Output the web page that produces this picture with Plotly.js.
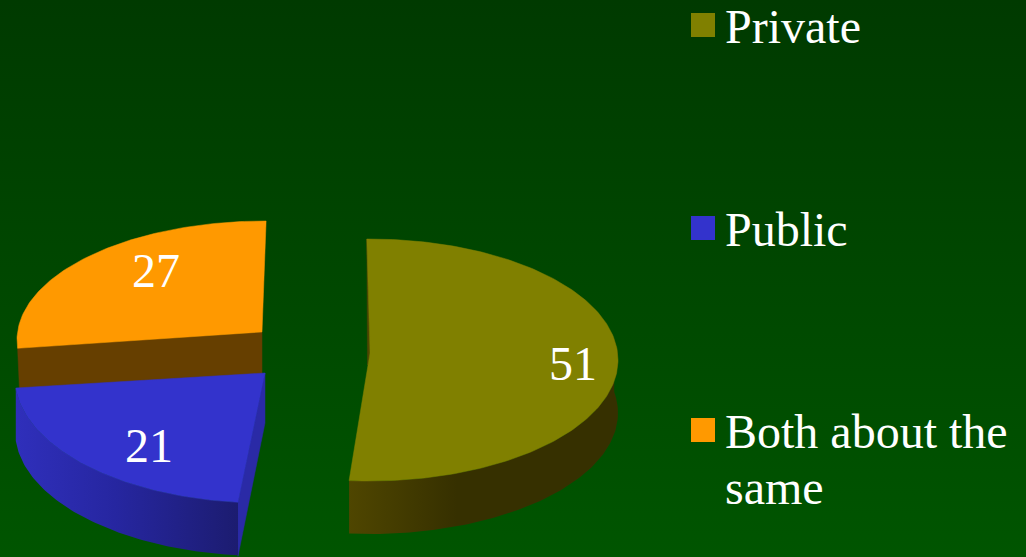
<!DOCTYPE html>
<html><head><meta charset="utf-8">
<script src="https://cdn.plot.ly/plotly-3.0.0.min.js"></script>
<style>
html,body{margin:0;padding:0;width:1026px;height:557px;overflow:hidden;background:linear-gradient(180deg,#003a00 0%,#005500 100%);}
#c{width:1026px;height:557px;}
</style></head><body><div id="c"></div>
<script>
const categories = ["Private", "Public", "Both about the same"];
const values = [51, 21, 27];

const topColors = ["#808000", "#3333cc", "#ff9900"];
const legendLines = [["Private"], ["Public"], ["Both about the", "same"]];

// Projection of each exploded slice on the page (px): ellipse centre, radii, apex, depth, start angle, perspective factor on the sweep
const cxs = [369, 264, 265], cys = [360, 378, 340];
const rxs = [249, 249, 248], rys = [121, 125, 119];
const apexX = [370, 265, 262], apexY = [353, 373, 332];
const depths = [53, 53, 44];
const starts = [-0.5, 186, 266], sweepK = [0.998, 1.04, 0.96];

const total = values.reduce((a, b) => a + b, 0);
function arc(i, t0, t1) {
  const xs = [], ys = [], n = Math.max(2, Math.ceil(Math.abs(t1 - t0)));
  for (let k = 0; k <= n; k++) {
    const t = (t0 + (t1 - t0) * k / n) * Math.PI / 180;
    xs.push(cxs[i] + rxs[i] * Math.sin(t));
    ys.push(cys[i] - rys[i] * Math.cos(t));
  }
  return {xs, ys};
}
function poly(xs, ys, color, grad) {
  const tr = {type:"scatter", mode:"lines", x:xs.concat(xs[0]), y:ys.concat(ys[0]), fill:"toself",
    fillcolor:color, line:{color:color, width:0.5}, hoverinfo:"skip", showlegend:false};
  if (grad) { tr.fillgradient = {type:"horizontal", colorscale:grad}; tr.line = {color:grad[grad.length-1][1], width:0}; }
  return tr;
}
function wall(i, t0, t1, grad, color) {
  const a = arc(i, t0, t1);
  const xs = a.xs.concat(a.xs.slice().reverse());
  const ys = a.ys.concat(a.ys.slice().reverse().map(y => y + depths[i]));
  return poly(xs, ys, color, grad);
}
const sweep = i => values[i] / total * 360 * sweepK[i];
const traces = [];

// Both about the same: cut face, then top
{
  const i = 2, e = starts[i] + sweep(i);
  const a = arc(i, starts[i], e);
  const lx = a.xs[0], ly = a.ys[0];
  traces.push(poly([lx, apexX[i], apexX[i], lx + 2], [ly, apexY[i], apexY[i] + depths[i], ly + depths[i]], "#663f00"));
  traces.push(poly(a.xs.concat(apexX[i]), a.ys.concat(apexY[i]), topColors[i]));
}
// Public: cut face, wall, top
{
  const i = 1, e = starts[i] + sweep(i);
  const a = arc(i, starts[i], e);
  const bx = a.xs[0], by = a.ys[0];
  traces.push(poly([apexX[i], bx, bx, apexX[i]], [apexY[i], by, by + depths[i] + 1, apexY[i] + depths[i] - 3], "#2a2aa6"));
  traces.push(wall(i, starts[i], e, [[0, "#2f2fbb"], [0.45, "#2626a0"], [1, "#1c1c70"]], "#2626a0"));
  traces.push(poly(a.xs.concat(apexX[i]), a.ys.concat(apexY[i]), topColors[i]));
}
// Private: sliver of inner face, wall, top
{
  const i = 0, e = starts[i] + sweep(i);
  const a = arc(i, starts[i], e);
  traces.push(poly([a.xs[0], apexX[i], apexX[i] - 2.5], [a.ys[0], apexY[i], apexY[i] + 12], "#4f4600"));
  traces.push(wall(i, 80, e, [[0, "#4f4600"], [0.4, "#363000"], [1, "#363000"]], "#363000"));
  traces.push(poly(a.xs.concat(apexX[i]), a.ys.concat(apexY[i]), topColors[i]));
}
// Legend swatches
traces.push({type:"scatter", mode:"markers", x:[703, 703, 703], y:[25, 228, 430],
  marker:{symbol:"square", size:24, color:topColors, line:{width:0}}, hoverinfo:"skip", showlegend:false});

const txt = (s, x, y, anchor) => ({text:s, x, y, xref:"x", yref:"y", showarrow:false, xanchor:anchor, yanchor:"middle",
  font:{family:"Liberation Serif, Times New Roman, serif", size:48, color:"#ffffff"}});
const annotations = [
  txt(String(values[0]), 573, 363, "center"),
  txt(String(values[1]), 149, 445, "center"),
  txt(String(values[2]), 156, 270, "center"),
  txt(legendLines[0][0], 723, 26, "left"),
  txt(legendLines[1][0], 723, 229, "left"),
  txt(legendLines[2][0], 723, 431, "left"),
  txt(legendLines[2][1], 723, 487, "left")
];
Plotly.newPlot("c", traces, {
  width:1026, height:557, margin:{l:0, r:0, t:0, b:0},
  paper_bgcolor:"rgba(0,0,0,0)", plot_bgcolor:"rgba(0,0,0,0)", showlegend:false,
  xaxis:{range:[0, 1026], visible:false, fixedrange:true},
  yaxis:{range:[557, 0], visible:false, fixedrange:true},
  annotations
}, {displayModeBar:false, staticPlot:true});
</script></body></html>
